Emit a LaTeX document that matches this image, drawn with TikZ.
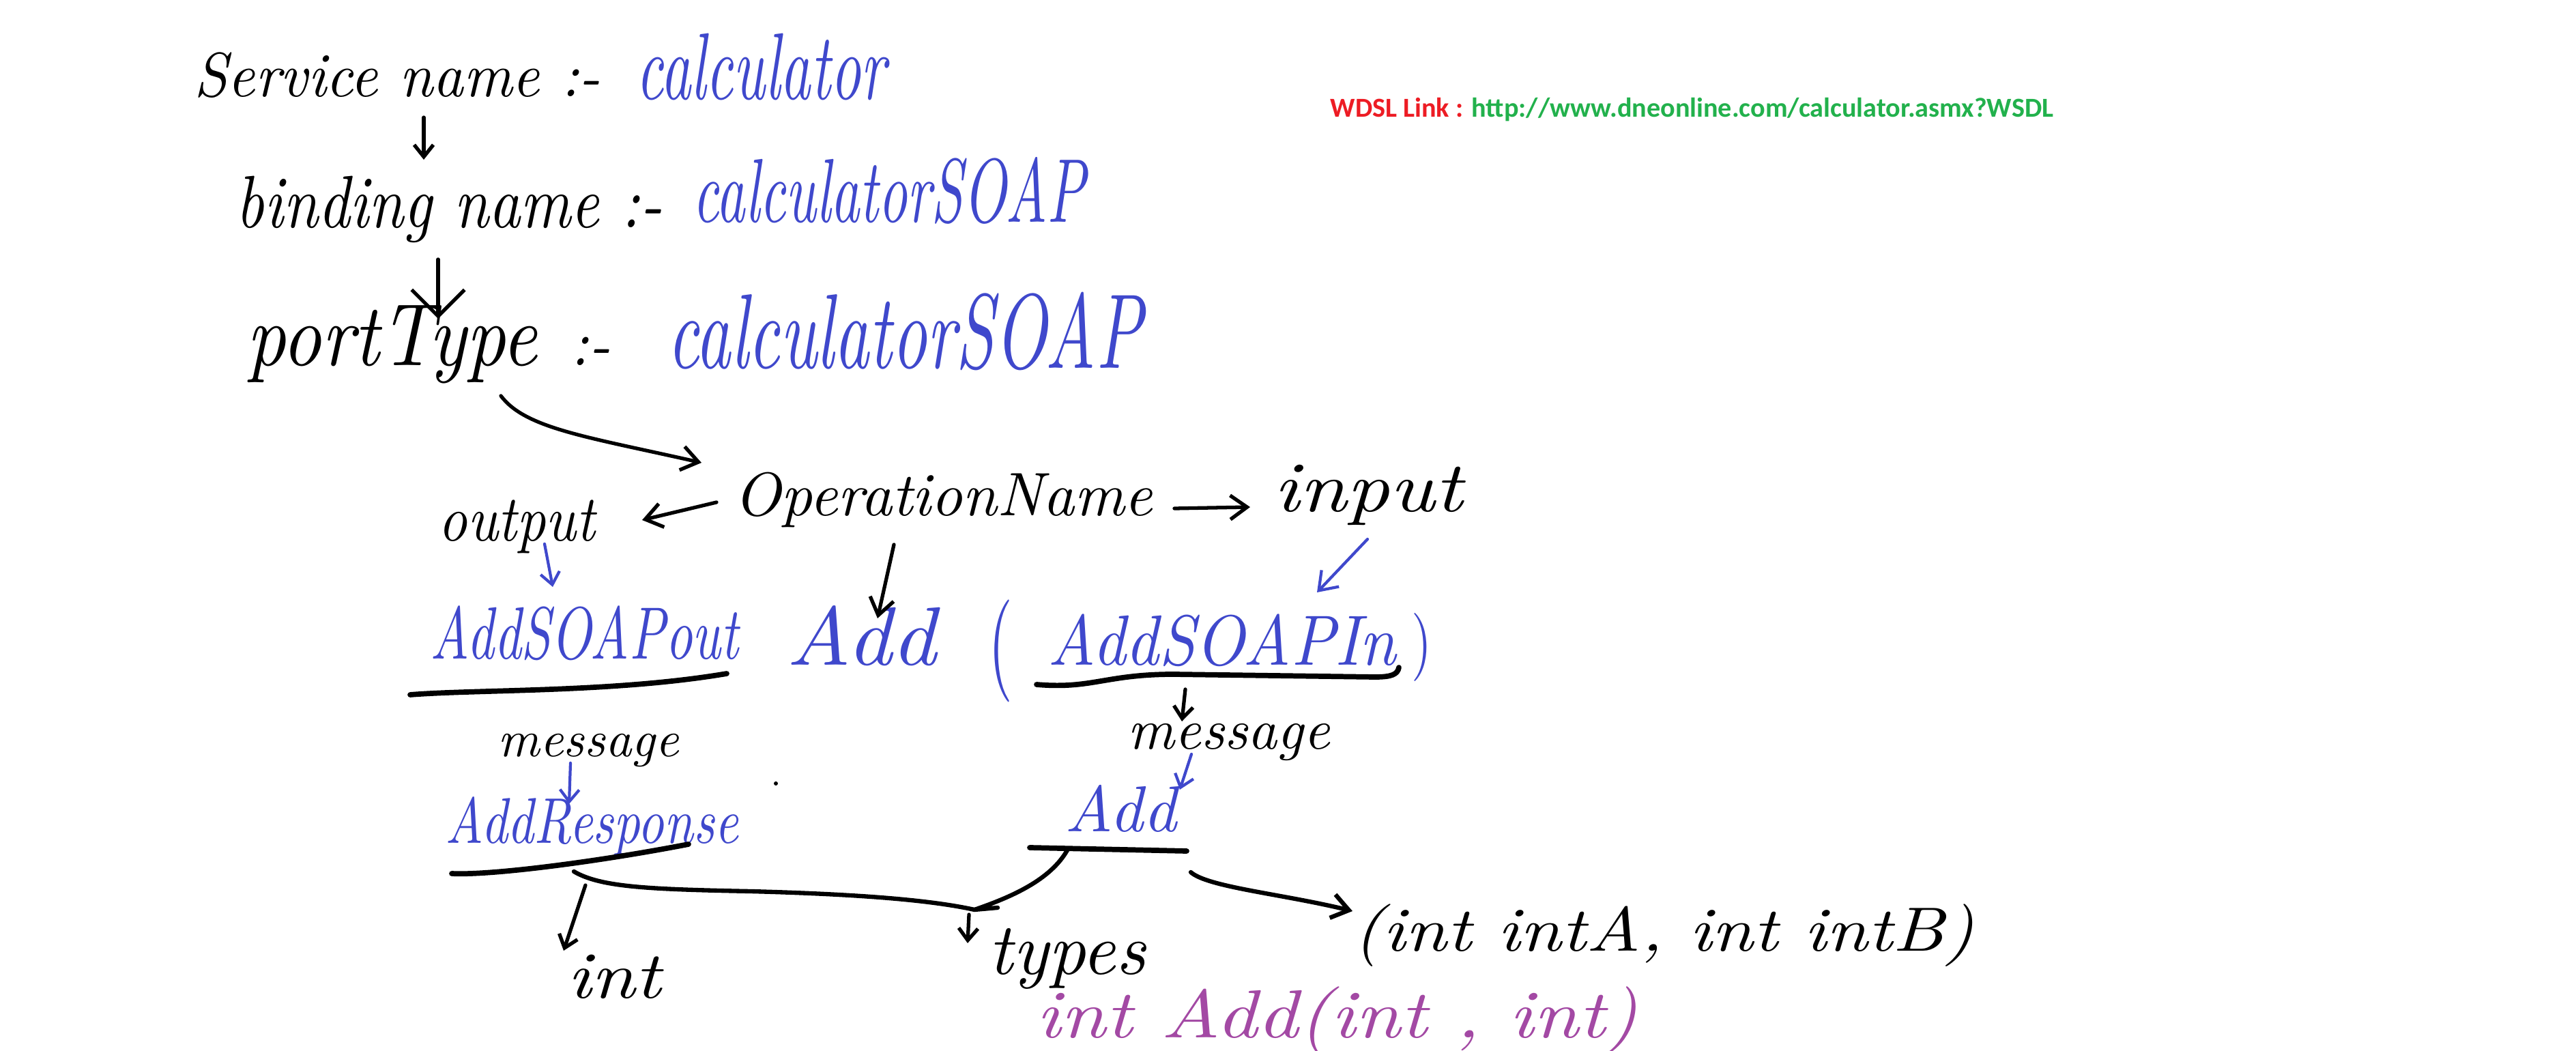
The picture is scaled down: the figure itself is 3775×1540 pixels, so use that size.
\documentclass[tikz,border=0pt]{standalone}
\usepackage{fontspec}
\usepackage{graphicx}
\newfontfamily\linkfont{Carlito}
\usetikzlibrary{arrows.meta}
\definecolor{pen}{RGB}{63,72,204}
\definecolor{plumink}{RGB}{163,73,164}
\definecolor{linkred}{RGB}{237,28,36}
\definecolor{linkgreen}{RGB}{34,177,76}
\newcommand\hw[3]{\scalebox{1}[#2]{\resizebox{#1}{!}{\itshape #3}}}
\begin{document}
\begin{tikzpicture}[x=0.01cm,y=-0.01cm,
  txt/.style={inner sep=0pt, anchor=base west},
  conn/.style={draw=black, line width=1.5pt, line cap=round, line join=round},
  bconn/.style={draw=pen, line width=1.2pt, line cap=round, line join=round},
  uline/.style={draw=black, line width=2.2pt, line cap=round, line join=round},
  hs/.style={-{Straight Barb[length=5pt,width=8pt]}},
  hm/.style={-{Straight Barb[length=7pt,width=10pt]}},
  hbig/.style={-{Straight Barb[length=11pt,width=22pt]}}]
\fill[white] (0,0) rectangle (3775,1540);
\useasboundingbox (0,0) rectangle (3775,1540);

% texts
\node[txt] (svc) at (284,142) {\hw{5.95cm}{1.05}{Service name :-}};
\node[txt,text=pen] (svcv) at (932,146) {\hw{3.65cm}{1.6}{calculator}};
\node[txt] (bnd) at (345,334) {\hw{6.25cm}{1.2}{binding name :-}};
\node[txt,text=pen] (bndv) at (1015,326) {\hw{5.75cm}{1.6}{calculatorSOAP}};
\node[txt] (pt) at (361,536) {\hw{4.25cm}{1.15}{portType}};
\node[txt] (ptsep) at (836,536) {\hw{0.58cm}{1.1}{:-}};
\node[txt,text=pen] (ptv) at (978,540) {\hw{6.95cm}{1.55}{calculatorSOAP}};
\node[txt] (op) at (1075,755) {\hw{6.13cm}{1.0}{OperationName}};
\node[txt] (outp) at (642,793) {\hw{2.29cm}{1.15}{output}};
\node[txt] (inp) at (1866,750) {\hw{2.76cm}{0.85}{input}};
\node[txt,text=pen] (aso) at (630,965) {\hw{4.51cm}{1.4}{AddSOAPout}};
\node[txt,text=pen] (adda) at (1152,975) {\hw{2.19cm}{0.95}{Add}};
\node[anchor=north west, inner sep=0pt, text=pen] (lp) at (1448,878) {\resizebox*{0.36cm}{1.5cm}{(}};
\node[txt,text=pen] (asi) at (1535,975) {\hw{5.10cm}{1.1}{AddSOAPIn}};
\node[anchor=north west, inner sep=0pt, text=pen] (rp) at (2068,898) {\resizebox*{0.3cm}{1.0cm}{)}};
\node[txt] (msgr) at (1652,1097) {\hw{2.96cm}{1.0}{message}};
\node[txt] (msgl) at (729,1108) {\hw{2.65cm}{1.0}{message}};
\node[txt,text=pen] (aresp) at (652,1235) {\hw{4.29cm}{1.25}{AddResponse}};
\node[txt,text=pen] (addb) at (1560,1218) {\hw{1.63cm}{1.0}{Add}};
\node[txt] (typ) at (1448,1427) {\hw{2.30cm}{1.0}{types}};
\node[txt] (intl) at (831,1462) {\hw{1.37cm}{0.85}{int}};
\node[txt] (sig) at (1982,1393) {\hw{9.10cm}{0.85}{(int intA, int intB)}};
\node[txt,text=plumink] (addsig) at (1518,1520) {\hw{8.81cm}{0.85}{int Add(int , int)}};
\node[txt] (link) at (1949,172) {\resizebox{10.59cm}{!}{\linkfont\bfseries\textcolor{linkred}{WDSL Link :} \textcolor{linkgreen}{http://www.dneonline.com/calculator.asmx?WSDL}}};

% connector end points
\coordinate (a1s) at (621,172);  \coordinate (a1e) at (621,234);
\coordinate (a2s) at (642,380);  \coordinate (a2e) at (642,467);
\coordinate (a3s) at (734,580);  \coordinate (a3e) at (1028,678);
\coordinate (a4s) at (1050,736); \coordinate (a4e) at (941,762);
\coordinate (a5s) at (1721,745); \coordinate (a5e) at (1832,743);
\coordinate (a6s) at (798,797);  \coordinate (a6e) at (810,860);
\coordinate (a7s) at (1310,798); \coordinate (a7e) at (1286,906);
\coordinate (a8s) at (2004,790); \coordinate (a8e) at (1930,868);
\coordinate (u1s) at (601,1018); \coordinate (u1e) at (1065,987);
\coordinate (u2s) at (1519,1003); \coordinate (u2e) at (2050,978);
\coordinate (a9s) at (1737,1010); \coordinate (a9e) at (1732,1057);
\coordinate (a10s) at (836,1118); \coordinate (a10e) at (834,1178);
\coordinate (u3s) at (662,1280); \coordinate (u3e) at (1009,1237);
\coordinate (a11s) at (1746,1105); \coordinate (a11e) at (1729,1157);
\coordinate (u4s) at (1509,1242); \coordinate (u4e) at (1739,1247);
\coordinate (c1s) at (841,1277);
\coordinate (c2s) at (1565,1244);
\coordinate (mg) at (1428,1333);
\coordinate (mgt) at (1462,1330);
\coordinate (a12s) at (1420,1340); \coordinate (a12e) at (1418,1382);
\coordinate (a13s) at (858,1297); \coordinate (a13e) at (826,1393);
\coordinate (a14s) at (1745,1278); \coordinate (a14e) at (1982,1335);

% connectors
\draw[conn,hs] (a1s) -- (a1e);
\draw[conn,hbig] (a2s) -- (a2e);
\draw[conn,hm] (a3s) .. controls (770,628) and (860,640) .. (a3e);
\draw[conn,hm] (a4s) -- (a4e);
\draw[conn,hm] (a5s) -- (a5e);
\draw[bconn,hs] (a6s) -- (a6e);
\draw[conn,hm] (a7s) -- (a7e);
\draw[bconn,hm] (a8s) -- (a8e);
\draw[uline] (u1s) .. controls (700,1010) and (900,1015) .. (u1e);
\draw[uline] (u2s) .. controls (1600,1010) and (1620,988) .. (1720,988) -- (2015,992) .. controls (2040,992) and (2048,988) .. (u2e);
\draw[conn,hs] (a9s) -- (a9e);
\draw[bconn,hs] (a10s) -- (a10e);
\draw[uline] (u3s) .. controls (720,1283) and (880,1262) .. (u3e);
\draw[bconn,hs] (a11s) -- (a11e);
\draw[uline] (u4s) -- (u4e);
\draw[conn,line width=1.8pt] (c1s) .. controls (880,1300) and (950,1303) .. (1100,1306) .. controls (1250,1310) and (1360,1318) .. (mg);
\draw[conn,line width=1.8pt] (c2s) .. controls (1540,1290) and (1480,1315) .. (mg) -- (mgt);
\draw[conn,hs] (a12s) -- (a12e);
\draw[conn,hs] (a13s) -- (a13e);
\draw[conn,line width=1.8pt,hm] (a14s) .. controls (1770,1300) and (1880,1310) .. (a14e);
\fill (1137,1148) circle[radius=3];
\end{tikzpicture}
\end{document}
